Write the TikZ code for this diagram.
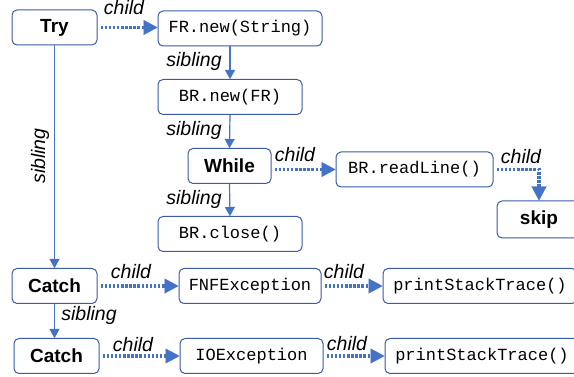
\documentclass[tikz,border=0pt]{standalone}
\usepackage{fontspec}
\setmainfont{Liberation Sans}
\setmonofont{Liberation Mono}
\usetikzlibrary{arrows.meta, positioning}
\definecolor{astblue}{HTML}{4472C4}
\definecolor{astedge}{HTML}{3A5CA8}

\begin{document}
\begin{tikzpicture}[x=1pt, y=-1pt,
        keyword/.style={rectangle, draw=astedge, fill=white, line width=1pt,
                        rounded corners=5pt, minimum height=35pt, inner sep=0pt,
                        font=\fontsize{19}{21}\selectfont\bfseries},
        code/.style={rectangle, draw=astedge, fill=white, line width=1pt,
                     rounded corners=5pt, minimum height=35pt, inner sep=0pt,
                     font=\ttfamily\fontsize{17}{19}\selectfont},
        lbl/.style={font=\fontsize{19.5}{21}\selectfont\itshape, inner sep=0pt},
        childarrow/.style={astblue, line width=3.5pt, dash pattern=on 2.5pt off 1.6pt,
                           shorten <=3pt,
                           -{Triangle[length=14pt, width=15pt, line width=0.1pt]}},
        sibarrow/.style={astblue, line width=1.2pt,
                         -{Triangle[length=9pt, width=10pt, line width=0.1pt]}}
      ]
        \useasboundingbox (0,0) rectangle (574,377);
        % Try block
        \node[keyword, minimum width=85pt]  (try)      at (54.5, 27.5) {Try};
        \node[code, minimum width=164pt]    (frnew)    at (240, 28.5)  {FR.new(String)};
        \node[code, minimum width=144pt]    (brnew)    at (230, 97)    {BR.new(FR)};
        \node[keyword, minimum width=83pt]  (while)    at (229.5, 166) {While};
        \node[code, minimum width=144pt]    (brclose)  at (230, 234)   {BR.close()};
        \node[code, minimum width=157pt]    (readline) at (414.5, 169.5) {BR.readLine()};
        \node[keyword, minimum width=84pt, minimum height=37pt] (skip) at (539, 219.5) {skip};
        % Catch blocks
        \node[keyword, minimum width=85pt]  (catch1)   at (54.5, 286)  {Catch};
        \node[code, minimum width=142pt]    (fnf)      at (250, 286)   {FNFException};
        \node[code, minimum width=194pt]    (pst1)     at (480, 286)   {printStackTrace()};
        \node[keyword, minimum width=85pt]  (catch2)   at (56.5, 356)  {Catch};
        \node[code, minimum width=143pt]    (ioex)     at (251.5, 356) {IOException};
        \node[code, minimum width=194pt]    (pst2)     at (482, 356)   {printStackTrace()};
        % child links
        \draw[childarrow] (try.east) -- (try.east -| frnew.west);
        \draw[childarrow] (while.east |- readline.west) -- (readline.west);
        \draw[childarrow] (readline.east) -| (skip.north);
        \draw[childarrow] (catch1.east) -- (fnf.west);
        \draw[childarrow] (fnf.east) -- (pst1.west);
        \draw[childarrow] (catch2.east) -- (ioex.west);
        \draw[childarrow] (ioex.east) -- (pst2.west);
        % sibling links
        \draw[sibarrow] (frnew.south -| brnew.north) -- (brnew.north);
        \draw[sibarrow] (brnew.south) -- (while.north);
        \draw[sibarrow] (while.south) -- (brclose.north);
        \draw[sibarrow] (try.south) -- (catch1.north);
        \draw[sibarrow] (catch1.south) -- (catch1.south |- catch2.north);
        % link labels
        \node[lbl] (l1)  at (124, 8)   {child};
        \node[lbl] (l2)  at (194, 61)  {sibling};
        \node[lbl] (l3)  at (194, 130) {sibling};
        \node[lbl] (l4)  at (194, 199) {sibling};
        \node[lbl] (l5)  at (295, 155) {child};
        \node[lbl] (l6)  at (521, 157) {child};
        \node[lbl, rotate=90] (l7) at (40, 156) {sibling};
        \node[lbl] (l8)  at (131, 272) {child};
        \node[lbl] (l9)  at (89, 315)  {sibling};
        \node[lbl] (l10) at (133, 345) {child};
        \node[lbl] (l11) at (344, 272) {child};
        \node[lbl] (l12) at (347, 344) {child};
      \end{tikzpicture}
\end{document}
